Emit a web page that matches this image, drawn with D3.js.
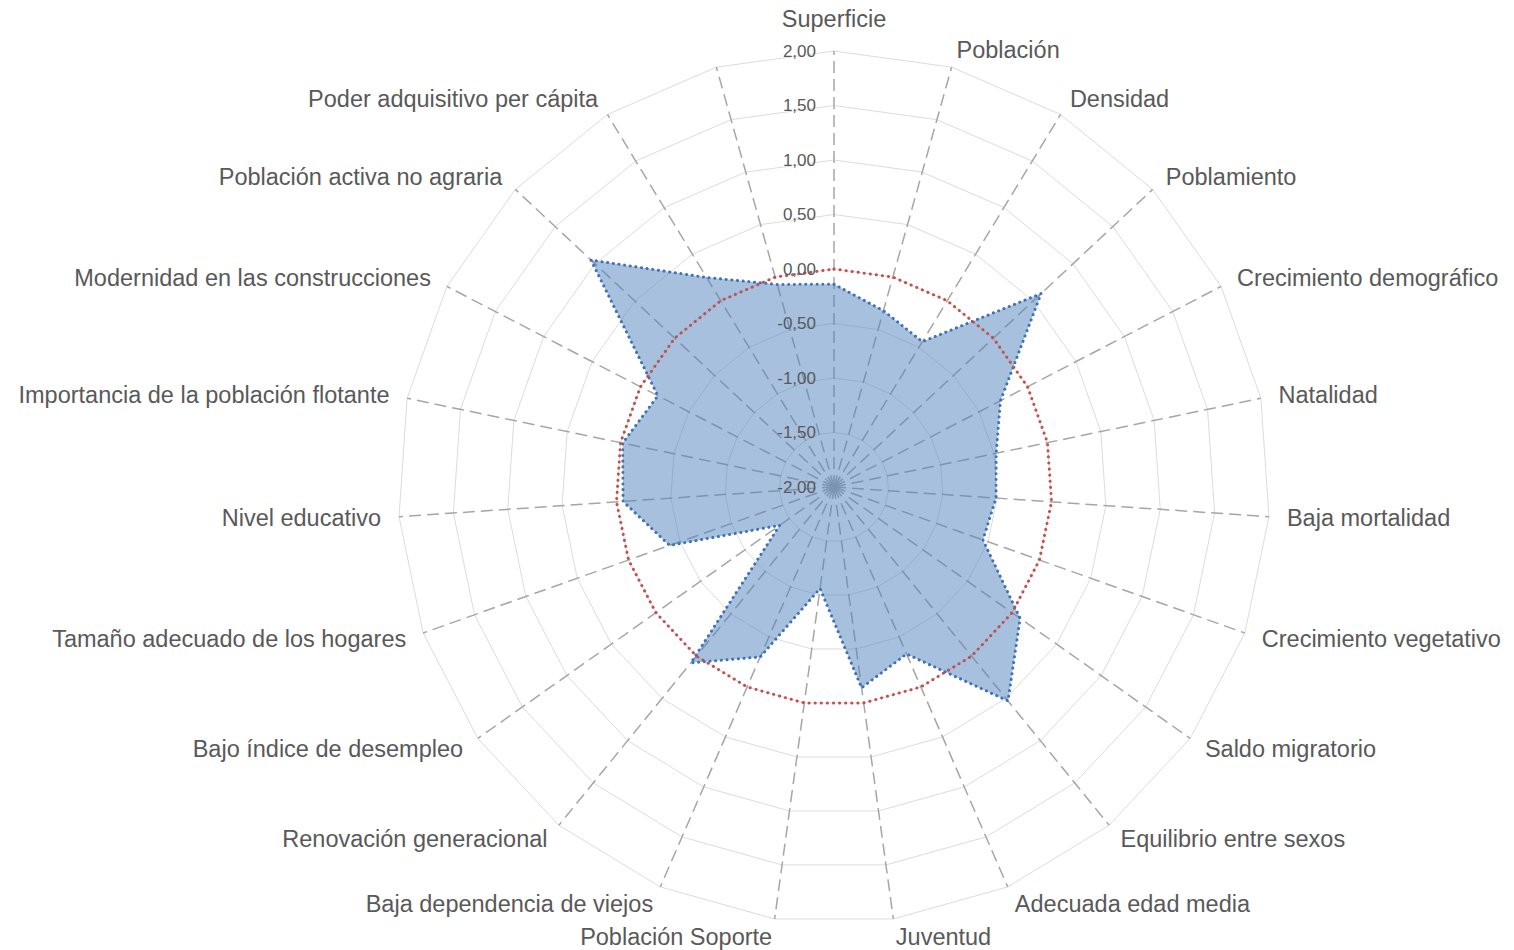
<!DOCTYPE html>
<html>
<head>
<meta charset="utf-8">
<script src="https://cdn.jsdelivr.net/npm/d3@7"></script>
<style>
  body { margin: 0; background: white; }
  svg { display: block; font-family: 'Liberation Sans', Arial, sans-serif; }
</style>
</head>
<body>
<div id="chart"></div>
<script>
// Categories go clockwise from the top; the last one has no label in the original
const categories = [
  'Superficie', 'Población', 'Densidad', 'Poblamiento', 'Crecimiento demográfico',
  'Natalidad', 'Baja mortalidad', 'Crecimiento vegetativo', 'Saldo migratorio',
  'Equilibrio entre sexos', 'Adecuada edad media', 'Juventud', 'Población Soporte',
  'Baja dependencia de viejos', 'Renovación generacional', 'Bajo índice de desempleo',
  'Tamaño adecuado de los hogares', 'Nivel educativo', 'Importancia de la población flotante',
  'Modernidad en las construcciones', 'Población activa no agraria',
  'Poder adquisitivo per cápita', ''
]

const municipioValues = [
  -0.14, -0.32, -0.44, 0.60, -0.28,
  -0.48, -0.51, -0.55, 0.09,
  0.53, -0.33, -0.14, -1.06,
  -0.30, 0.08, -1.39,
  -0.40, -0.06, -0.02,
  -0.18, 1.05,
  0.25, -0.07
]

// reference series (provincial average = 0)
const referenceValues = [
  0, 0, 0, 0, 0, 0, 0, 0, 0, 0, 0, 0,
  0, 0, 0, 0, 0, 0, 0, 0, 0, 0, 0
]

const tickValues = [-2, -1.5, -1, -0.5, 0, 0.5, 1, 1.5, 2]

const width = 1514
const height = 950
const cx = 834
const cy = 487
const radius = 436
const labelGap = 18

const n = categories.length
const angle = i => i * 2 * Math.PI / n

const r = d3.scaleLinear()
  .domain([-2, 2])
  .range([0, radius])

const fmt = v => d3.format('.2f')(v).replace('.', ',').replace('−', '-')

const svg = d3.select('#chart')
  .append('svg')
  .attr('width', width)
  .attr('height', height)

const g = svg.append('g')
  .attr('transform', `translate(${cx} ${cy})`)

const radial = d3.lineRadial()
  .angle((d, i) => angle(i))
  .radius(d => r(d))
  .curve(d3.curveLinearClosed)

// grid rings (polygons)
g.append('g')
  .selectAll('path')
  .data(tickValues.slice(1))
  .enter()
  .append('path')
  .attr('d', t => radial(categories.map(() => t)))
  .attr('fill', 'none')
  .attr('stroke', '#dcdcdc')
  .attr('stroke-width', 1)

// spokes
g.append('g')
  .selectAll('line')
  .data(categories)
  .enter()
  .append('line')
  .attr('x1', 0)
  .attr('y1', 0)
  .attr('x2', (d, i) => radius * Math.sin(angle(i)))
  .attr('y2', (d, i) => -radius * Math.cos(angle(i)))
  .attr('stroke', '#a6a6a6')
  .attr('stroke-width', 1.5)
  .attr('stroke-dasharray', '12,6')

// main series
g.append('path')
  .datum(municipioValues)
  .attr('d', radial)
  .attr('fill', '#4f81bd')
  .attr('fill-opacity', 0.5)
  .attr('stroke', '#3f72b5')
  .attr('stroke-width', 3)
  .attr('stroke-linecap', 'round')
  .attr('stroke-dasharray', '0.1,5.6')

// zero reference
g.append('path')
  .datum(referenceValues)
  .attr('d', radial)
  .attr('fill', 'none')
  .attr('stroke', '#c0504d')
  .attr('stroke-width', 3)
  .attr('stroke-linecap', 'round')
  .attr('stroke-dasharray', '0.1,6')

// tick labels along the top spoke
g.append('g')
  .selectAll('text')
  .data(tickValues)
  .enter()
  .append('text')
  .text(fmt)
  .attr('x', -18)
  .attr('y', t => -r(t))
  .attr('dy', '0.35em')
  .attr('text-anchor', 'end')
  .style('font-size', '17px')
  .style('fill', '#595959')

// category labels
g.append('g')
  .selectAll('text')
  .data(categories)
  .enter()
  .append('text')
  .text(d => d)
  .each(function (d, i) {
    const s = Math.sin(angle(i))
    const c = Math.cos(angle(i))
    const mid = Math.abs(s) < 0.01
    const rr = radius + labelGap + (mid ? 14 : 0)
    d3.select(this)
      .attr('x', rr * s)
      .attr('y', -rr * c)
      .attr('dy', '0.35em')
      .attr('text-anchor', mid ? 'middle' : (s > 0 ? 'start' : 'end'))
  })
  .style('font-size', '23.5px')
  .style('fill', '#595959')
</script>
</body>
</html>
